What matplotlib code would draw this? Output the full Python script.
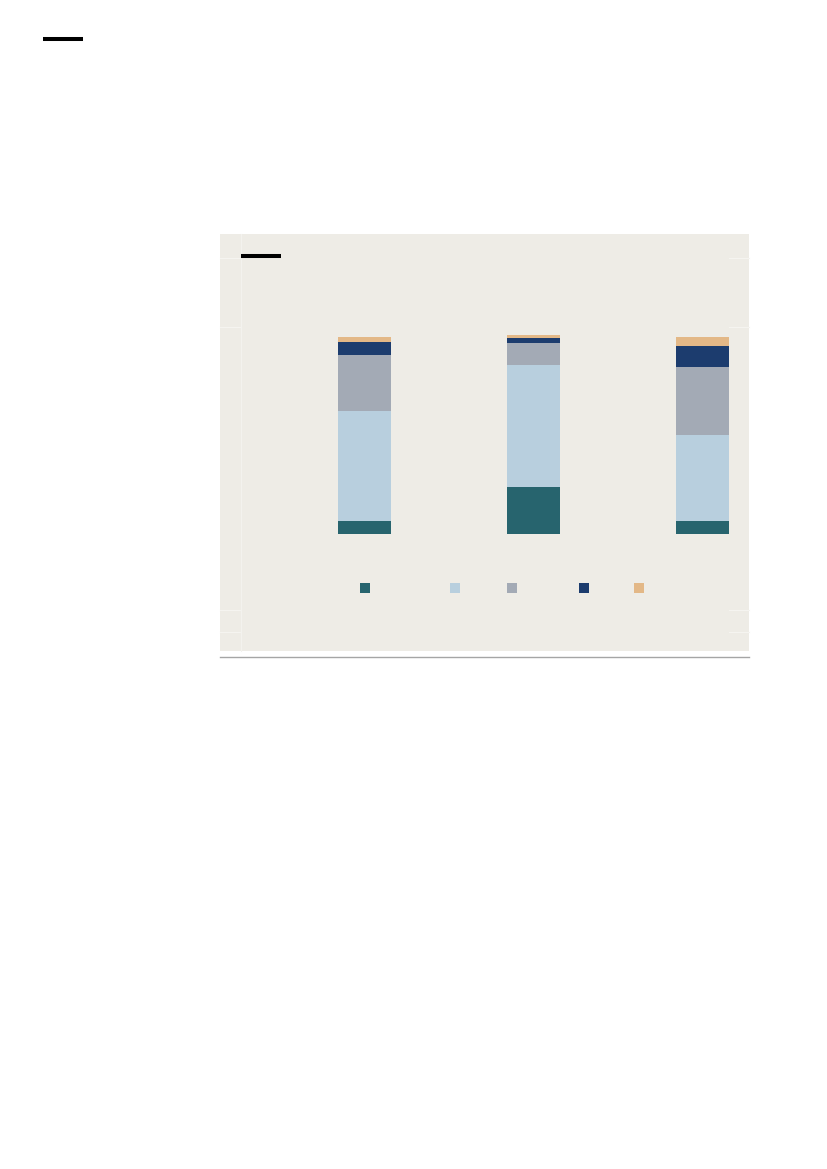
import numpy as np
import matplotlib
matplotlib.use("Agg")
import matplotlib.pyplot as plt
from matplotlib.patches import Rectangle
from matplotlib.lines import Line2D

# three stacked bars, five segments each (share of total, %)
groups = [0, 1, 2]
seg_teal = [6.75, 24.0, 6.75]
seg_lightblue = [55.8, 61.9, 43.65]
seg_gray = [28.6, 11.0, 34.5]
seg_navy = [6.45, 2.9, 10.8]
seg_tan = [2.4, 1.2, 4.4]

series = [seg_teal, seg_lightblue, seg_gray, seg_navy, seg_tan]
colors = ["#27646E", "#B8CFDE", "#A3AAB5", "#1C3C6E", "#E3B887"]
legend_x = [0.244, 0.421, 0.533, 0.675, 0.783]

W, H = 827, 1169
fig = plt.figure(figsize=(8.27, 11.69), dpi=100)
fig.patch.set_facecolor("white")

def fx(px):
    return px / W

def fy(py):
    return 1 - py / H

# panel background
fig.patches.append(Rectangle((fx(220), fy(651)), fx(749) - fx(220), fy(234) - fy(651),
                             transform=fig.transFigure, facecolor="#EEECE6",
                             edgecolor="none", zorder=-2))

# faint lines in the panel margins
for py in [258, 327, 610, 632]:
    fig.lines.append(Line2D([fx(220), fx(241)], [fy(py), fy(py)], transform=fig.transFigure,
                            color="#F5F4F0", lw=0.8, zorder=-1))
    fig.lines.append(Line2D([fx(729), fx(749)], [fy(py), fy(py)], transform=fig.transFigure,
                            color="#F5F4F0", lw=0.8, zorder=-1))
fig.lines.append(Line2D([fx(241), fx(241)], [fy(651), fy(234)], transform=fig.transFigure,
                        color="#F3F2EE", lw=0.8, zorder=-1))

# bottom rule under the panel
fig.lines.append(Line2D([fx(220), fx(749)], [fy(657), fy(657)], transform=fig.transFigure,
                        color="#A5A5A5", lw=1.0, zorder=-1))

# short black accents
fig.lines.append(Line2D([fx(43), fx(83)], [fy(39), fy(39)], transform=fig.transFigure,
                        color="black", lw=2.9, solid_capstyle="butt"))
fig.lines.append(Line2D([fx(241), fx(281)], [fy(256), fy(256)], transform=fig.transFigure,
                        color="black", lw=2.9, solid_capstyle="butt"))

ax = fig.add_axes([fx(241), fy(534.3), fx(749) - fx(241), fy(258) - fy(534.3)])
ax.set_facecolor("none")
ax.set_zorder(2)

bottom = np.zeros(len(groups))
for vals, c in zip(series, colors):
    ax.bar(groups, vals, width=0.3138, bottom=bottom, color=c, edgecolor="none", zorder=3)
    bottom += np.array(vals)

ax.set_xlim(-0.7324, 2.2753)
ax.set_ylim(0, 140.25)
ax.axis("off")

# legend keys (labels are blank in the reference)
for lx, c in zip(legend_x, colors):
    ax.scatter([lx], [-0.196], marker="s", s=45, color=c, transform=ax.transAxes,
               clip_on=False, linewidths=0, zorder=4)

plt.savefig("out.png", dpi=100)
